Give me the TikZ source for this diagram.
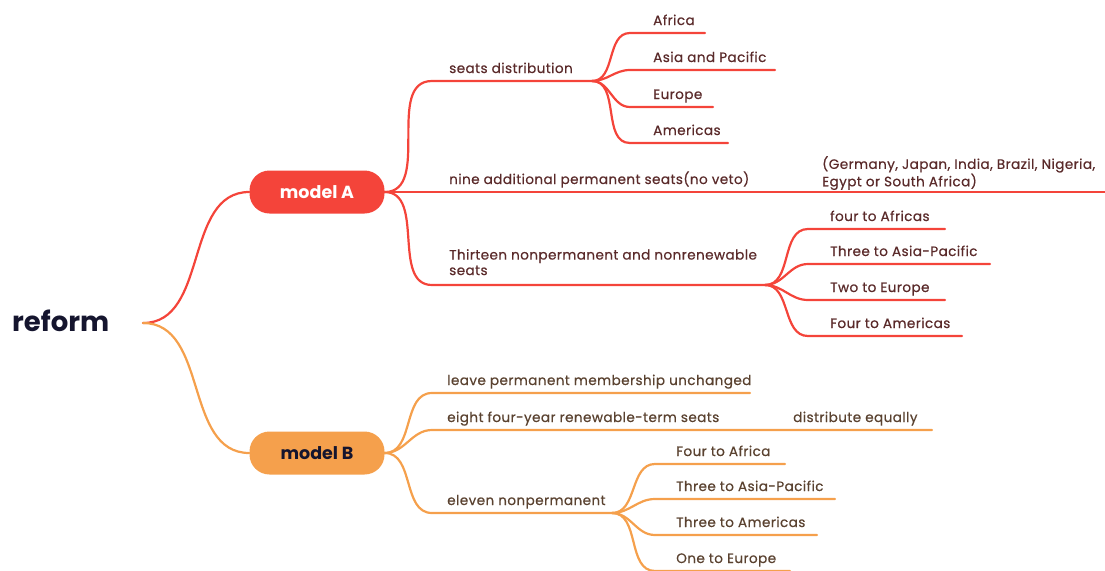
\documentclass[tikz,border=0pt]{standalone}
\usepackage{fontspec}
\setmainfont{Poppins}
\newfontfamily\lblfont{Poppins}[FakeBold=0.5, LetterSpace=3]
\usepackage{xcolor}
\usetikzlibrary{positioning,calc}
\definecolor{mapred}{HTML}{F4443A}
\definecolor{maporange}{HTML}{F5A04C}
\definecolor{inkred}{HTML}{5A2A2A}
\definecolor{inkorange}{HTML}{5A4230}
\definecolor{rootink}{HTML}{15152E}
\tikzset{
  mm_root/.style={
    font=\fontsize{27.5}{30}\selectfont\bfseries, text=rootink, inner sep=0pt
  },
  mm_main/.style={
    rectangle, rounded corners=20pt, minimum width=135pt, minimum height=43pt,
    font=\fontsize{17.5}{20}\selectfont\bfseries, inner sep=0pt
  },
  mm_lbl/.style={font=\lblfont\fontsize{13.6}{15.5}\selectfont, inner sep=0pt, align=left},
  mm_lblA/.style={mm_lbl, text=inkred},
  mm_lblB/.style={mm_lbl, text=inkorange},
  mm_lineA/.style={mapred, line width=2.2pt, line cap=round},
  mm_lineB/.style={maporange, line width=2.2pt, line cap=round},
}

\begin{document}
\begin{tikzpicture}[x=1pt, y=-1pt]
\useasboundingbox (0,0) rectangle (1105,570);

\node[mm_root, anchor=base west] (root) at (12,331) {reform};
\coordinate (rootR) at (143,323);

\node[mm_main, fill=mapred, text=white]   (mA) at (317,192) {model A};
\node[mm_main, fill=maporange, text=rootink] (mB) at (317,453) {model B};

\draw[mm_lineA] (rootR) to[out=0, in=180] (mA.west);
\draw[mm_lineB] (rootR) to[out=0, in=180] (mB.west);

% model A -- seats distribution
\coordinate (sdL) at (432,81);  \coordinate (sdR) at (592,81);
\node[mm_lblA, anchor=base west] (sd) at (449,73) {seats distribution};
\draw[mm_lineA] (mA.east) to[out=0, in=180] (sdL) -- (sdR);

\coordinate (afL) at (630,33);  \coordinate (afR) at (705,33);
\coordinate (apL) at (630,70);  \coordinate (apR) at (775,70);
\coordinate (euL) at (630,107); \coordinate (euR) at (713,107);
\coordinate (amL) at (630,143); \coordinate (amR) at (728,143);
\node[mm_lblA, anchor=base west] (af) at (653,25)  {Africa};
\node[mm_lblA, anchor=base west] (ap) at (653,62)  {Asia and Pacific};
\node[mm_lblA, anchor=base west] (eu) at (653,99)  {Europe};
\node[mm_lblA, anchor=base west] (am) at (653,135) {Americas};
\draw[mm_lineA] (sdR) to[out=0, in=180] (afL) -- (afR);
\draw[mm_lineA] (sdR) to[out=0, in=180] (apL) -- (apR);
\draw[mm_lineA] (sdR) to[out=0, in=180] (euL) -- (euR);
\draw[mm_lineA] (sdR) to[out=0, in=180] (amL) -- (amR);

% model A -- nine additional permanent seats
\coordinate (nvR) at (800,192); \coordinate (gmR) at (1105,192);
\node[mm_lblA, anchor=base west] (nv) at (449,184) {nine additional permanent seats(no veto)};
\node[mm_lblA, anchor=north west] (gm) at (822,156) {(Germany, Japan, India, Brazil, Nigeria,\\Egypt or South Africa)};
\draw[mm_lineA] (mA.east) -- (nvR) -- (gmR);

% model A -- thirteen nonpermanent seats
\coordinate (tnL) at (432,285); \coordinate (tnR) at (765,285);
\node[mm_lblA, anchor=north west] (tn) at (449,249) {Thirteen nonpermanent and nonrenewable\\seats};
\draw[mm_lineA] (mA.east) to[out=0, in=180] (tnL) -- (tnR);

\coordinate (t1L) at (808,229); \coordinate (t1R) at (945,229);
\coordinate (t2L) at (808,264); \coordinate (t2R) at (990,264);
\coordinate (t3L) at (808,300); \coordinate (t3R) at (945,300);
\coordinate (t4L) at (808,336); \coordinate (t4R) at (962,336);
\node[mm_lblA, anchor=base west] (t1) at (830,221) {four to Africas};
\node[mm_lblA, anchor=base west] (t2) at (830,256) {Three to Asia-Pacific};
\node[mm_lblA, anchor=base west] (t3) at (830,292) {Two to Europe};
\node[mm_lblA, anchor=base west] (t4) at (830,328) {Four to Americas};
\draw[mm_lineA] (tnR) to[out=0, in=180] (t1L) -- (t1R);
\draw[mm_lineA] (tnR) to[out=0, in=180] (t2L) -- (t2R);
\draw[mm_lineA] (tnR) to[out=0, in=180] (t3L) -- (t3R);
\draw[mm_lineA] (tnR) to[out=0, in=180] (t4L) -- (t4R);

% model B
\coordinate (lvL) at (432,393); \coordinate (lvR) at (750,393);
\coordinate (eiL) at (432,430); \coordinate (eiR) at (775,430);
\coordinate (deR) at (932,430);
\coordinate (elL) at (432,513); \coordinate (elR) at (612,513);
\node[mm_lblB, anchor=base west] (lv) at (447,385) {leave permanent membership unchanged};
\node[mm_lblB, anchor=base west] (ei) at (447,422) {eight four-year renewable-term seats};
\node[mm_lblB, anchor=base west] (de) at (793,422) {distribute equally};
\node[mm_lblB, anchor=base west] (el) at (447,505) {eleven nonpermanent};
\draw[mm_lineB] (mB.east) to[out=0, in=180] (lvL) -- (lvR);
\draw[mm_lineB] (mB.east) to[out=0, in=180] (eiL) -- (eiR) -- (deR);
\draw[mm_lineB] (mB.east) to[out=0, in=180] (elL) -- (elR);

\coordinate (e1L) at (655,464); \coordinate (e1R) at (785,464);
\coordinate (e2L) at (655,499); \coordinate (e2R) at (835,499);
\coordinate (e3L) at (655,535); \coordinate (e3R) at (817,535);
\coordinate (e4L) at (655,571); \coordinate (e4R) at (790,571);
\node[mm_lblB, anchor=base west] (e1) at (676,456) {Four to Africa};
\node[mm_lblB, anchor=base west] (e2) at (676,491) {Three to Asia-Pacific};
\node[mm_lblB, anchor=base west] (e3) at (676,527) {Three to Americas};
\node[mm_lblB, anchor=base west] (e4) at (676,563) {One to Europe};
\draw[mm_lineB] (elR) to[out=0, in=180] (e1L) -- (e1R);
\draw[mm_lineB] (elR) to[out=0, in=180] (e2L) -- (e2R);
\draw[mm_lineB] (elR) to[out=0, in=180] (e3L) -- (e3R);
\draw[mm_lineB] (elR) to[out=0, in=180] (e4L) -- (e4R);

\end{tikzpicture}
\end{document}
